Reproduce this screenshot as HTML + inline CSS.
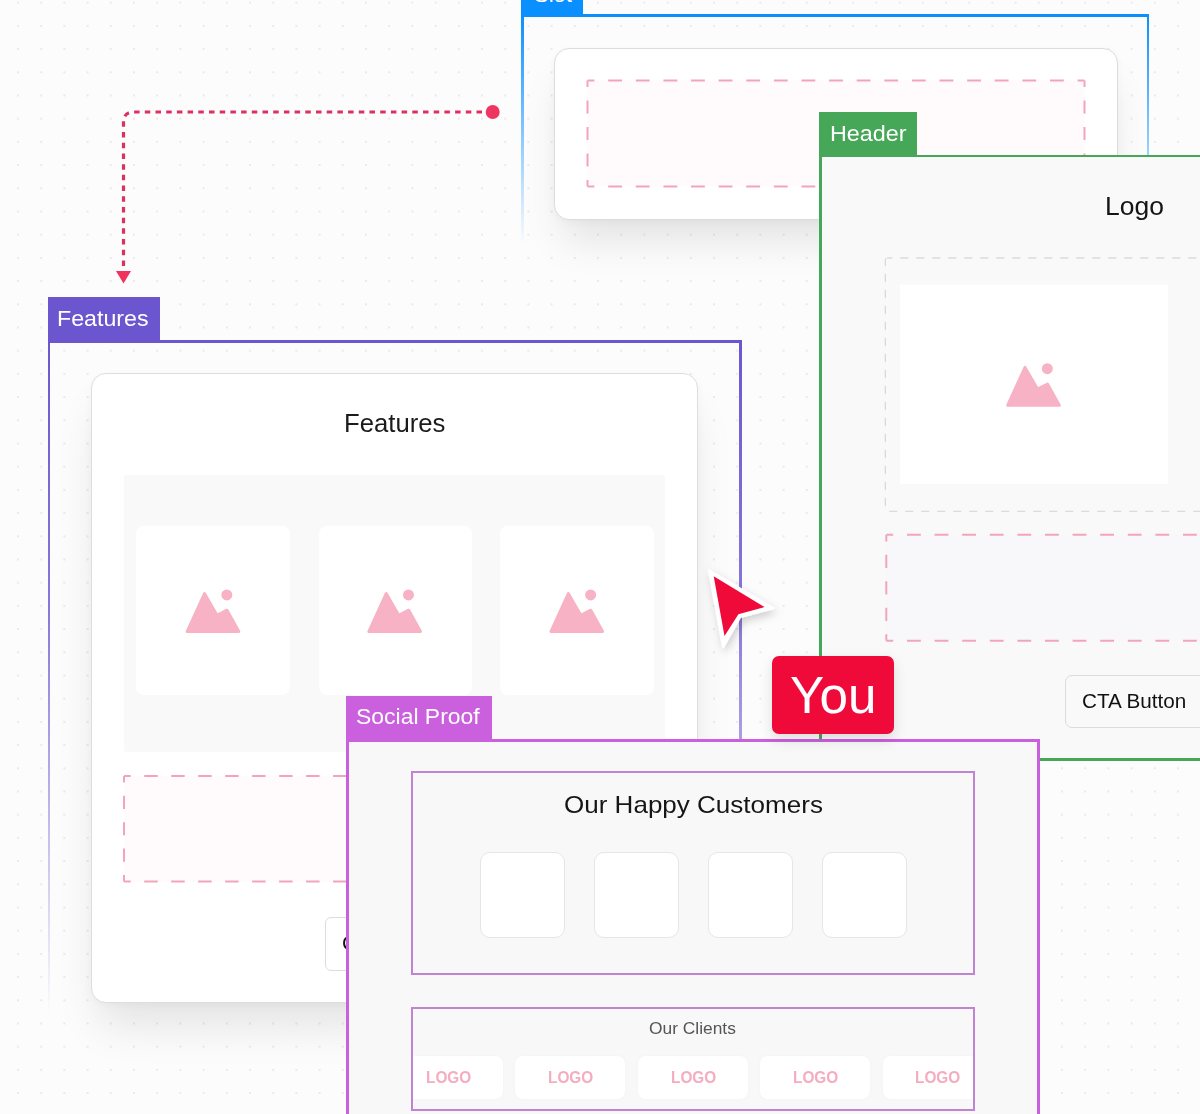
<!DOCTYPE html>
<html><head><meta charset="utf-8">
<style>
html,body{margin:0;padding:0}
body{width:1200px;height:1114px;overflow:hidden;position:relative;background:#fcfcfc;font-family:"Liberation Sans",sans-serif}
.a{position:absolute;box-sizing:border-box}
.t{position:absolute;white-space:nowrap}
.L{position:absolute;left:0;top:0;width:1200px;height:1114px}
svg{position:absolute;left:0;top:0;overflow:visible}
</style></head><body>

<div class="L" style="z-index:0"><svg width="1200" height="1114">
<defs><pattern id="dp" patternUnits="userSpaceOnUse" width="23.2" height="23.2" x="6.4" y="-8.9">
<circle cx="11.6" cy="11.6" r="0.85" fill="#e0e0e0"/></pattern></defs>
<rect width="1200" height="1114" fill="url(#dp)"/></svg></div>
<div class="L" style="z-index:1">
<div class="a" style="left:521.00px;top:-29.00px;width:62.00px;height:43.50px;background:#0a8fff"></div>
<div class="t" style="left:534.00px;top:-15.92px;font-size:22px;line-height:22px;color:#fff;transform:scaleX(1.0000);transform-origin:0 0;">Slot</div>
<div class="a" style="left:521.00px;top:14.40px;width:628.30px;height:2.80px;background:#0a8fff"></div>
<div class="a" style="left:521.00px;top:14.40px;width:2.80px;height:230.60px;background:linear-gradient(#0a8fff,rgba(10,143,255,0.45) 55%,rgba(10,143,255,0))"></div>
<div class="a" style="left:1146.50px;top:14.40px;width:2.80px;height:230.60px;background:linear-gradient(#0a8fff,rgba(10,143,255,0.45) 55%,rgba(10,143,255,0))"></div>
<div class="a" style="left:554.00px;top:47.50px;width:563.50px;height:172.50px;border:1px solid #dcdcdc;border-radius:15px;background:#fff;box-shadow:0 2px 8px rgba(0,0,0,0.03),0 28px 40px -8px rgba(0,0,0,0.10)"></div>
<svg width="1200" height="300"><rect x="587.50" y="80.50" width="497.00" height="106.00" fill="#fffafb"/><path d="M587.50 80.50L594.40 80.50M608.21 80.50L622.01 80.50M635.82 80.50L649.62 80.50M663.43 80.50L677.24 80.50M691.04 80.50L704.85 80.50M718.65 80.50L732.46 80.50M746.26 80.50L760.07 80.50M773.88 80.50L787.68 80.50M801.49 80.50L815.29 80.50M829.10 80.50L842.90 80.50M856.71 80.50L870.51 80.50M884.32 80.50L898.12 80.50M911.93 80.50L925.74 80.50M939.54 80.50L953.35 80.50M967.15 80.50L980.96 80.50M994.76 80.50L1008.57 80.50M1022.38 80.50L1036.18 80.50M1049.99 80.50L1063.79 80.50M1077.60 80.50L1084.50 80.50M1084.50 80.50L1084.50 87.12M1084.50 100.38L1084.50 113.62M1084.50 126.88L1084.50 140.12M1084.50 153.38L1084.50 166.62M1084.50 179.88L1084.50 186.50M1084.50 186.50L1077.60 186.50M1063.79 186.50L1049.99 186.50M1036.18 186.50L1022.38 186.50M1008.57 186.50L994.76 186.50M980.96 186.50L967.15 186.50M953.35 186.50L939.54 186.50M925.74 186.50L911.93 186.50M898.12 186.50L884.32 186.50M870.51 186.50L856.71 186.50M842.90 186.50L829.10 186.50M815.29 186.50L801.49 186.50M787.68 186.50L773.88 186.50M760.07 186.50L746.26 186.50M732.46 186.50L718.65 186.50M704.85 186.50L691.04 186.50M677.24 186.50L663.43 186.50M649.62 186.50L635.82 186.50M622.01 186.50L608.21 186.50M594.40 186.50L587.50 186.50M587.50 186.50L587.50 179.88M587.50 166.62L587.50 153.38M587.50 140.12L587.50 126.88M587.50 113.62L587.50 100.38M587.50 87.12L587.50 80.50" fill="none" stroke="#f2a5ba" stroke-width="2"/></svg>
</div>
<div class="L" style="z-index:2"><svg width="1200" height="300">
<path d="M492.7 112 H134 Q123.5 112 123.5 122.5 V267" fill="none" stroke="#dc3160" stroke-width="3.2" stroke-dasharray="5.5 5.2"/>
<circle cx="492.7" cy="112" r="7" fill="#ee3660"/>
<path d="M116 271 H131 L123.5 283.5 Z" fill="#f0325f"/>
</svg></div>
<div class="L" style="z-index:3">
<div class="a" style="left:47.50px;top:297.00px;width:112.50px;height:43.00px;background:#6c56d0"></div>
<div class="t" style="left:57.29px;top:307.88px;font-size:22px;line-height:22px;color:#fff;transform:scaleX(1.0548);transform-origin:0 0;">Features</div>
<div class="a" style="left:47.50px;top:339.50px;width:694.00px;height:3.00px;background:#6c56d0"></div>
<div class="a" style="left:47.50px;top:339.50px;width:2.80px;height:675.50px;background:linear-gradient(#6c56d0,rgba(108,86,208,0.8) 40%,rgba(108,86,208,0.45) 68%,rgba(108,86,208,0))"></div>
<div class="a" style="left:738.80px;top:339.50px;width:2.80px;height:675.50px;background:linear-gradient(#6c56d0,rgba(108,86,208,0.8) 40%,rgba(108,86,208,0.45) 68%,rgba(108,86,208,0))"></div>
<div class="a" style="left:91.00px;top:373.00px;width:607.00px;height:629.50px;border:1px solid #dedede;border-radius:15px;background:#fff;box-shadow:0 2px 8px rgba(0,0,0,0.03),0 30px 44px -8px rgba(0,0,0,0.10)"></div>
<div class="t" style="left:343.65px;top:411.04px;font-size:25px;line-height:25px;color:#1b1b1b;transform:scaleX(1.0271);transform-origin:0 0;">Features</div>
<div class="a" style="left:124.00px;top:475.00px;width:541.00px;height:276.50px;border-radius:3px;background:#f9f9f9"></div>
<div class="a" style="left:136.00px;top:525.60px;width:153.50px;height:169.40px;border-radius:8px;background:#fff"></div>
<div class="a" style="left:318.50px;top:525.60px;width:153.50px;height:169.40px;border-radius:8px;background:#fff"></div>
<div class="a" style="left:500.00px;top:525.60px;width:153.50px;height:169.40px;border-radius:8px;background:#fff"></div>
<svg width="1200" height="1114">
<g transform="translate(184 588)"><path d="M3.15 43.5 L20.5 5.6 L33 27.3 L43 22.2 L54.8 43.5 Z" fill="#f7b2c5" stroke="#f7b2c5" stroke-width="3" stroke-linejoin="round"/><circle cx="42.8" cy="6.9" r="5.5" fill="#f7b2c5"/></g>
<g transform="translate(365.7 588)"><path d="M3.15 43.5 L20.5 5.6 L33 27.3 L43 22.2 L54.8 43.5 Z" fill="#f7b2c5" stroke="#f7b2c5" stroke-width="3" stroke-linejoin="round"/><circle cx="42.8" cy="6.9" r="5.5" fill="#f7b2c5"/></g>
<g transform="translate(547.8 588)"><path d="M3.15 43.5 L20.5 5.6 L33 27.3 L43 22.2 L54.8 43.5 Z" fill="#f7b2c5" stroke="#f7b2c5" stroke-width="3" stroke-linejoin="round"/><circle cx="42.8" cy="6.9" r="5.5" fill="#f7b2c5"/></g>
<rect x="124.00" y="776.00" width="539.50" height="105.50" fill="#fffafb"/><path d="M124.00 776.00L130.74 776.00M144.23 776.00L157.72 776.00M171.21 776.00L184.69 776.00M198.18 776.00L211.67 776.00M225.16 776.00L238.64 776.00M252.13 776.00L265.62 776.00M279.11 776.00L292.59 776.00M306.08 776.00L319.57 776.00M333.06 776.00L346.54 776.00M360.03 776.00L373.52 776.00M387.01 776.00L400.49 776.00M413.98 776.00L427.47 776.00M440.96 776.00L454.44 776.00M467.93 776.00L481.42 776.00M494.91 776.00L508.39 776.00M521.88 776.00L535.37 776.00M548.86 776.00L562.34 776.00M575.83 776.00L589.32 776.00M602.81 776.00L616.29 776.00M629.78 776.00L643.27 776.00M656.76 776.00L663.50 776.00M663.50 776.00L663.50 782.59M663.50 795.78L663.50 808.97M663.50 822.16L663.50 835.34M663.50 848.53L663.50 861.72M663.50 874.91L663.50 881.50M663.50 881.50L656.76 881.50M643.27 881.50L629.78 881.50M616.29 881.50L602.81 881.50M589.32 881.50L575.83 881.50M562.34 881.50L548.86 881.50M535.37 881.50L521.88 881.50M508.39 881.50L494.91 881.50M481.42 881.50L467.93 881.50M454.44 881.50L440.96 881.50M427.47 881.50L413.98 881.50M400.49 881.50L387.01 881.50M373.52 881.50L360.03 881.50M346.54 881.50L333.06 881.50M319.57 881.50L306.08 881.50M292.59 881.50L279.11 881.50M265.62 881.50L252.13 881.50M238.64 881.50L225.16 881.50M211.67 881.50L198.18 881.50M184.69 881.50L171.21 881.50M157.72 881.50L144.23 881.50M130.74 881.50L124.00 881.50M124.00 881.50L124.00 874.91M124.00 861.72L124.00 848.53M124.00 835.34L124.00 822.16M124.00 808.97L124.00 795.78M124.00 782.59L124.00 776.00" fill="none" stroke="#f2a5ba" stroke-width="2"/>
</svg>
<div class="a" style="left:325.00px;top:916.50px;width:140.00px;height:54.30px;border:1.5px solid #dddddd;border-radius:6px;background:#fff"></div>
<div class="t" style="left:341.93px;top:933.96px;font-size:19.3px;line-height:19.3px;color:#111;transform:scaleX(1.0737);transform-origin:0 0;">CTA Button</div>
</div>
<div class="L" style="z-index:4">
<div class="a" style="left:819.25px;top:112.00px;width:97.75px;height:44.00px;background:#47a758"></div>
<div class="t" style="left:829.53px;top:123.60px;font-size:21.5px;line-height:21.5px;color:#fff;transform:scaleX(1.0868);transform-origin:0 0;">Header</div>
<div class="a" style="left:819.25px;top:155.40px;width:430.75px;height:605.60px;border-left:3px solid #47a758;border-top:2.6px solid #47a758;border-bottom:3px solid #47a758;background:#f9f9f9"></div>
<div class="t" style="left:1104.78px;top:193.84px;font-size:25px;line-height:25px;color:#151515;transform:scaleX(1.0585);transform-origin:0 0;">Logo</div>
<svg width="1200" height="1114">
<rect x="885.3" y="258" width="400" height="253.3" rx="2" fill="#f9f9f9" stroke="#dadada" stroke-width="1.3" stroke-dasharray="8 8" stroke-dashoffset="3"/>
<rect x="900" y="284.5" width="268" height="199.5" fill="#fff"/>
<g transform="translate(1004.5 361.8)"><path d="M3.15 43.5 L20.5 5.6 L33 27.3 L43 22.2 L54.8 43.5 Z" fill="#f7b2c5" stroke="#f7b2c5" stroke-width="3" stroke-linejoin="round"/><circle cx="42.8" cy="6.9" r="5.5" fill="#f7b2c5"/></g>
<rect x="886.30" y="534.80" width="414.00" height="106.00" fill="#f8f8fb"/><path d="M886.30 534.80L893.20 534.80M907.00 534.80L920.80 534.80M934.60 534.80L948.40 534.80M962.20 534.80L976.00 534.80M989.80 534.80L1003.60 534.80M1017.40 534.80L1031.20 534.80M1045.00 534.80L1058.80 534.80M1072.60 534.80L1086.40 534.80M1100.20 534.80L1114.00 534.80M1127.80 534.80L1141.60 534.80M1155.40 534.80L1169.20 534.80M1183.00 534.80L1196.80 534.80M1210.60 534.80L1224.40 534.80M1238.20 534.80L1252.00 534.80M1265.80 534.80L1279.60 534.80M1293.40 534.80L1300.30 534.80M1300.30 534.80L1300.30 541.42M1300.30 554.67L1300.30 567.92M1300.30 581.17L1300.30 594.42M1300.30 607.67L1300.30 620.92M1300.30 634.17L1300.30 640.80M1300.30 640.80L1293.40 640.80M1279.60 640.80L1265.80 640.80M1252.00 640.80L1238.20 640.80M1224.40 640.80L1210.60 640.80M1196.80 640.80L1183.00 640.80M1169.20 640.80L1155.40 640.80M1141.60 640.80L1127.80 640.80M1114.00 640.80L1100.20 640.80M1086.40 640.80L1072.60 640.80M1058.80 640.80L1045.00 640.80M1031.20 640.80L1017.40 640.80M1003.60 640.80L989.80 640.80M976.00 640.80L962.20 640.80M948.40 640.80L934.60 640.80M920.80 640.80L907.00 640.80M893.20 640.80L886.30 640.80M886.30 640.80L886.30 634.17M886.30 620.92L886.30 607.67M886.30 594.42L886.30 581.17M886.30 567.92L886.30 554.67M886.30 541.42L886.30 534.80" fill="none" stroke="#f2a5ba" stroke-width="2"/>
</svg>
<div class="a" style="left:1065.00px;top:675.30px;width:215.00px;height:53.20px;border:1px solid #dcdcdc;border-radius:7px;background:#f9f9f9"></div>
<div class="t" style="left:1081.73px;top:692.46px;font-size:19.3px;line-height:19.3px;color:#111;transform:scaleX(1.0737);transform-origin:0 0;">CTA Button</div>
</div>
<div class="L" style="z-index:5"><svg width="1200" height="1114">
<defs><filter id="csh" x="-50%" y="-50%" width="200%" height="200%"><feDropShadow dx="2" dy="4" stdDeviation="4" flood-color="#000" flood-opacity="0.18"/></filter></defs>
<path d="M708.8 570.2 L773.4 608.2 L740.3 617.1 L723.1 647.2 Z" fill="#fff" stroke="#fff" stroke-width="2" stroke-linejoin="round" filter="url(#csh)"/>
<path d="M713.7 576.2 L764.5 607 L738.4 614.2 L724.5 635.9 Z" fill="#ef0a3a"/>
</svg></div>
<div class="L" style="z-index:6">
<div class="a" style="left:346.00px;top:695.60px;width:146.00px;height:43.90px;background:#cb60de"></div>
<div class="t" style="left:356.28px;top:706.25px;font-size:22.5px;line-height:22.5px;color:#fff;transform:scaleX(1.0198);transform-origin:0 0;">Social Proof</div>
<div class="a" style="left:346.00px;top:738.70px;width:694.00px;height:461.30px;border-left:3px solid #cb60de;border-right:3px solid #cb60de;border-top:3px solid #cb60de;background:#f8f8f9"></div>
<div class="a" style="left:411.25px;top:771.25px;width:564.15px;height:203.85px;border:2px solid #c184d2"></div>
<div class="t" style="left:563.92px;top:792.93px;font-size:24px;line-height:24px;color:#161616;transform:scaleX(1.0844);transform-origin:0 0;">Our Happy Customers</div>
<div class="a" style="left:479.50px;top:851.75px;width:85.50px;height:85.75px;border:1px solid #e6e6e6;border-radius:10px;background:#fff"></div>
<div class="a" style="left:593.50px;top:851.75px;width:85.50px;height:85.75px;border:1px solid #e6e6e6;border-radius:10px;background:#fff"></div>
<div class="a" style="left:707.75px;top:851.75px;width:85.50px;height:85.75px;border:1px solid #e6e6e6;border-radius:10px;background:#fff"></div>
<div class="a" style="left:821.80px;top:851.75px;width:85.50px;height:85.75px;border:1px solid #e6e6e6;border-radius:10px;background:#fff"></div>
<div class="a" style="left:411.25px;top:1007px;width:564.15px;height:103.7px;border:2px solid #c184d2;overflow:hidden">
<div class="t" style="left:236.23px;top:11.21px;font-size:17px;line-height:17px;color:#555;transform:scaleX(1.0214);transform-origin:0 0;">Our Clients</div>
<div class="a" style="left:-20.75px;top:47.30px;width:110.00px;height:42.70px;border-radius:8px;background:#fff;box-shadow:0 0 5px rgba(0,0,0,0.025)"></div>
<div class="t" style="left:12.79px;top:60.71px;font-size:16px;line-height:16px;color:#f4adc0;transform:scaleX(0.9609);transform-origin:0 0;font-weight:bold">LOGO</div>
<div class="a" style="left:101.75px;top:47.30px;width:110.00px;height:42.70px;border-radius:8px;background:#fff;box-shadow:0 0 5px rgba(0,0,0,0.025)"></div>
<div class="t" style="left:135.09px;top:60.71px;font-size:16px;line-height:16px;color:#f4adc0;transform:scaleX(0.9609);transform-origin:0 0;font-weight:bold">LOGO</div>
<div class="a" style="left:224.25px;top:47.30px;width:110.00px;height:42.70px;border-radius:8px;background:#fff;box-shadow:0 0 5px rgba(0,0,0,0.025)"></div>
<div class="t" style="left:257.39px;top:60.71px;font-size:16px;line-height:16px;color:#f4adc0;transform:scaleX(0.9609);transform-origin:0 0;font-weight:bold">LOGO</div>
<div class="a" style="left:346.75px;top:47.30px;width:110.00px;height:42.70px;border-radius:8px;background:#fff;box-shadow:0 0 5px rgba(0,0,0,0.025)"></div>
<div class="t" style="left:379.69px;top:60.71px;font-size:16px;line-height:16px;color:#f4adc0;transform:scaleX(0.9609);transform-origin:0 0;font-weight:bold">LOGO</div>
<div class="a" style="left:469.25px;top:47.30px;width:110.00px;height:42.70px;border-radius:8px;background:#fff;box-shadow:0 0 5px rgba(0,0,0,0.025)"></div>
<div class="t" style="left:501.99px;top:60.71px;font-size:16px;line-height:16px;color:#f4adc0;transform:scaleX(0.9609);transform-origin:0 0;font-weight:bold">LOGO</div>
</div>
</div>
<div class="L" style="z-index:7">
<div class="a" style="left:771.90px;top:656.25px;width:122.20px;height:77.50px;border-radius:7px;background:#ef0a3a;box-shadow:0 6px 14px rgba(0,0,0,0.12)"></div>
<div class="t" style="left:790.26px;top:669.51px;font-size:51.5px;line-height:51.5px;color:#fff;transform:scaleX(0.9940);transform-origin:0 0;">You</div>
</div>
</body></html>
